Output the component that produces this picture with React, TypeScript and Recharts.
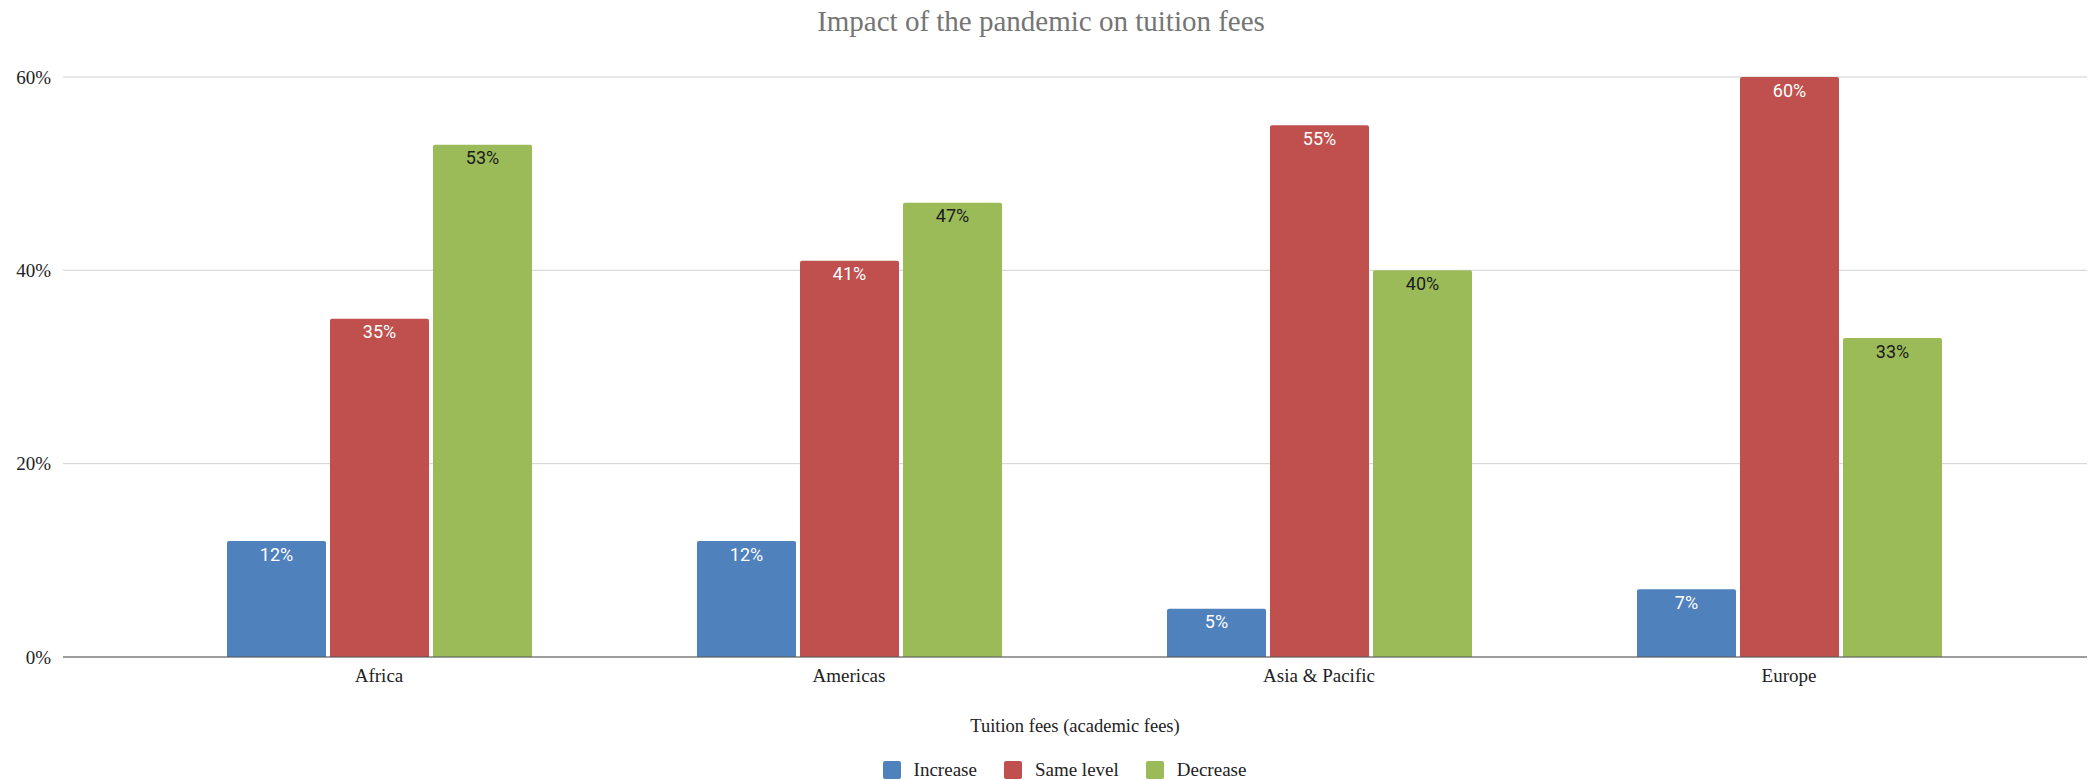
import { Bar, BarChart, CartesianGrid, LabelList, Legend, XAxis, YAxis } from "recharts"

const regions = ["Africa", "Americas", "Asia & Pacific", "Europe"]
const increase = [12, 12, 5, 7]
const sameLevel = [35, 41, 55, 60]
const decrease = [53, 47, 40, 33]
const yTicks = [0, 20, 40, 60]

const series = [
  { key: "increase", name: "Increase", color: "#4f81bd", labelColor: "#ffffff" },
  { key: "same", name: "Same level", color: "#c0504d", labelColor: "#ffffff" },
  { key: "decrease", name: "Decrease", color: "#9bbb59", labelColor: "#1a1a1a" },
]

const data = regions.map((name, i) => ({
  name,
  increase: increase[i],
  same: sameLevel[i],
  decrease: decrease[i],
}))

const serif = "'Liberation Serif', 'Times New Roman', serif"

function LegendContent() {
  return (
    <div
      style={{
        display: "flex",
        justifyContent: "center",
        alignItems: "center",
        gap: 27,
        height: 26,
        paddingTop: 3,
        paddingLeft: 42,
        fontFamily: serif,
        fontSize: 19,
        color: "#222",
      }}
    >
      {series.map((s) => (
        <div key={s.key} style={{ display: "flex", alignItems: "center" }}>
          <span style={{ width: 18, height: 18, background: s.color, borderRadius: 2, marginRight: 13, display: "inline-block" }} />
          <span>{s.name}</span>
        </div>
      ))}
    </div>
  )
}

export default function App() {
  return (
    <div style={{ position: "absolute", left: 0, top: 0, width: 2090, height: 780, background: "#fff" }}>
      <div
        style={{
          position: "absolute",
          top: 5,
          left: 0,
          width: 2082,
          textAlign: "center",
          fontFamily: serif,
          fontSize: 29,
          color: "#757575",
        }}
      >
        Impact of the pandemic on tuition fees
      </div>
      <BarChart
        width={2090}
        height={780}
        data={data}
        margin={{ top: 77, right: 3, bottom: 0, left: 0 }}
        barCategoryGap={83}
        barGap={4}
      >
        <CartesianGrid vertical={false} stroke="#d0d0d0" />
        <XAxis
          dataKey="name"
          padding={{ left: 81, right: 63 }}
          height={97}
          tickLine={false}
          tickSize={0}
          tickMargin={12}
          axisLine={{ stroke: "#555" }}
          tick={{ fill: "#222", fontFamily: serif, fontSize: 19 }}
          label={{
            value: "Tuition fees (academic fees)",
            position: "insideBottom",
            offset: 22,
            fill: "#222",
            fontFamily: serif,
            fontSize: 18.5,
          }}
        />
        <YAxis
          width={63}
          domain={[0, 60]}
          ticks={yTicks}
          tickFormatter={(v) => `${v}%`}
          axisLine={false}
          tickLine={false}
          tickSize={0}
          tickMargin={12}
          tick={{ fill: "#222", fontFamily: serif, fontSize: 19 }}
        />
        <Legend verticalAlign="bottom" content={<LegendContent />} wrapperStyle={{ height: 26 }} />
        {series.map((s) => (
          <Bar key={s.key} dataKey={s.key} name={s.name} fill={s.color} radius={[2, 2, 0, 0]} isAnimationActive={false}>
            <LabelList
              dataKey={s.key}
              position="insideTop"
              offset={7}
              formatter={(v: any) => `${v}%`}
              fill={s.labelColor}
              fontFamily="Roboto, sans-serif"
              fontSize={18}
            />
          </Bar>
        ))}
      </BarChart>
    </div>
  )
}
